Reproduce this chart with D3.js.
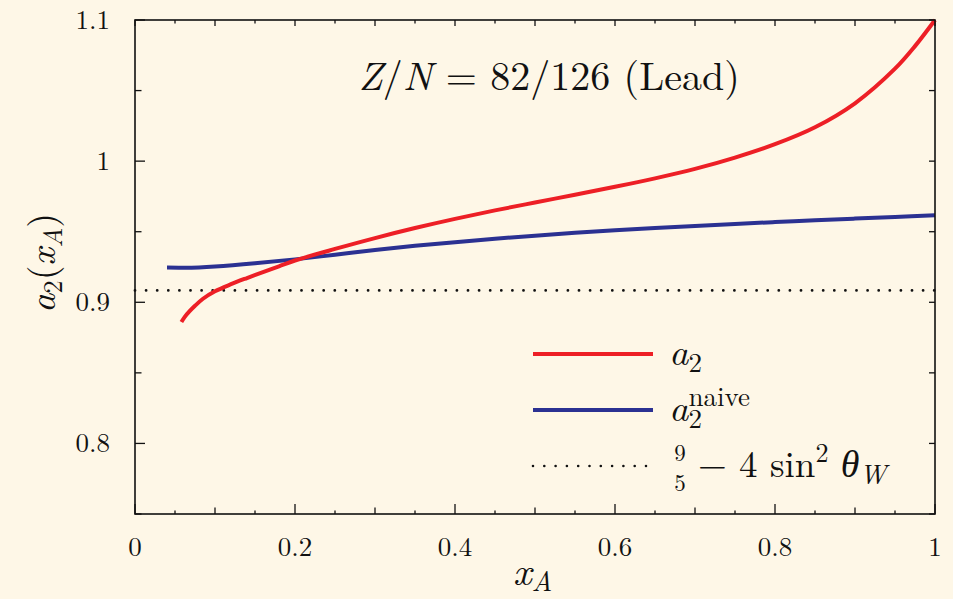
<!DOCTYPE html>
<html>
<head>
<meta charset="utf-8">
<script src="https://cdn.jsdelivr.net/npm/d3@7"></script>
<style>
  body { margin: 0; background: #fef7e7; }
</style>
</head>
<body>
<script>
'use strict';

// a2(xA) for lead
const redX = [0.058, 0.062, 0.068, 0.075, 0.085, 0.10, 0.12, 0.14, 0.16, 0.18, 0.20, 0.25, 0.30,
              0.35, 0.40, 0.45, 0.50, 0.55, 0.60, 0.65, 0.70, 0.75, 0.80, 0.85, 0.90, 0.95, 0.975, 1.00];
const redY = [0.886, 0.8895, 0.8935, 0.8975, 0.9025, 0.9078, 0.9128, 0.9172, 0.9214, 0.9255, 0.9296, 0.9378, 0.9455,
              0.9526, 0.9591, 0.9651, 0.9707, 0.9762, 0.9818, 0.9878, 0.9945, 1.0025, 1.012, 1.024, 1.041, 1.0655, 1.0815, 1.100];

// naive a2
const blueX = [0.04, 0.06, 0.08, 0.10, 0.15, 0.20, 0.25, 0.30, 0.35, 0.40, 0.45, 0.50,
               0.55, 0.60, 0.65, 0.70, 0.75, 0.80, 0.85, 0.90, 0.95, 1.00];
const blueY = [0.9246, 0.9245, 0.9247, 0.9253, 0.9276, 0.9304, 0.9337, 0.937, 0.940, 0.9426, 0.945, 0.9472,
               0.9492, 0.951, 0.9526, 0.9541, 0.9555, 0.9568, 0.9581, 0.9593, 0.9605, 0.9617];

const sin2ThetaW = 0.2229;
const refLevel = 9 / 5 - 4 * sin2ThetaW;

const xTicks = [0, 0.2, 0.4, 0.6, 0.8, 1];
const xTickLabels = ["0", "0.2", "0.4", "0.6", "0.8", "1"];
const yTicks = [0.8, 0.9, 1, 1.1];
const yTickLabels = ["0.8", "0.9", "1", "1.1"];

const width = 953, height = 599;
const margin = {left: 135, right: 18, top: 20, bottom: 85};
const serif = "'Latin Modern Roman', 'Liberation Serif', serif";

let svg = d3.select("body").append("svg")
    .attr("width", width)
    .attr("height", height)
    .style("background", "#fef7e7");

let x = d3.scaleLinear().domain([0, 1]).range([margin.left, width - margin.right]);
let y = d3.scaleLinear().domain([0.75, 1.1]).range([height - margin.bottom, margin.top]);

const x0 = x(0), x1 = x(1), y0 = y(0.75), y1 = y(1.1);

// ticks: three sizes on x, two on y
let ticks = svg.append("g").attr("stroke", "#111").attr("stroke-width", 1.3);
d3.range(0, 21).forEach(function(i) {
    let v = i * 0.05;
    let len = (i % 4 === 0) ? 10 : (i % 2 === 0 ? 6.5 : 3.5);
    let lenTop = (i % 2 === 0) ? 6 : 3.5;
    ticks.append("line").attr("x1", x(v)).attr("x2", x(v)).attr("y1", y0).attr("y2", y0 - len);
    ticks.append("line").attr("x1", x(v)).attr("x2", x(v)).attr("y1", y1).attr("y2", y1 + lenTop);
});
d3.range(0, 8).forEach(function(i) {
    let v = 0.75 + i * 0.05;
    let len = (i % 2 === 1) ? 10 : 6.5;
    ticks.append("line").attr("x1", x0).attr("x2", x0 + len).attr("y1", y(v)).attr("y2", y(v));
    ticks.append("line").attr("x1", x1).attr("x2", x1 - 6).attr("y1", y(v)).attr("y2", y(v));
});

// tick labels
svg.append("g").selectAll("text")
    .data(xTicks)
    .enter().append("text")
      .attr("x", d => x(d))
      .attr("y", y0 + 42)
      .attr("text-anchor", "middle")
      .style("font-size", "27px")
      .text((d, i) => xTickLabels[i]);

svg.append("g").selectAll("text")
    .data(yTicks)
    .enter().append("text")
      .attr("x", x0 - 25)
      .attr("y", d => y(d) + 9)
      .attr("text-anchor", "end")
      .style("font-size", "27px")
      .text((d, i) => yTickLabels[i]);

// reference line 9/5 - 4 sin^2 thetaW
svg.append("line")
    .attr("x1", x0).attr("x2", x1)
    .attr("y1", y(refLevel)).attr("y2", y(refLevel))
    .attr("stroke", "#111")
    .attr("stroke-width", 2.8)
    .attr("stroke-linecap", "round")
    .attr("stroke-dasharray", "0,11.1");

let line = d3.line()
    .x(d => x(d[0]))
    .y(d => y(d[1]))
    .curve(d3.curveCatmullRom.alpha(0.5));

svg.append("path")
    .datum(blueX.map((v, i) => [v, blueY[i]]))
    .attr("fill", "none")
    .attr("stroke", "#2b3192")
    .attr("stroke-width", 4)
    .attr("d", line);

svg.append("path")
    .datum(redX.map((v, i) => [v, redY[i]]))
    .attr("fill", "none")
    .attr("stroke", "#ed1f26")
    .attr("stroke-width", 4)
    .attr("d", line);

// frame
svg.append("rect")
    .attr("x", x0).attr("y", y1)
    .attr("width", x1 - x0).attr("height", y0 - y1)
    .attr("fill", "none")
    .attr("stroke", "#111")
    .attr("stroke-width", 1.6);

// title
let title = svg.append("text")
    .attr("x", 549).attr("y", 90)
    .attr("text-anchor", "middle")
    .style("font-size", "40px");
title.append("tspan").style("font-style", "italic").text("Z");
title.append("tspan").text("/");
title.append("tspan").style("font-style", "italic").text("N");
title.append("tspan").text(" = 82/126 (Lead)");

// axis labels
let xl = svg.append("text")
    .attr("x", 513).attr("y", 585)
    .style("font-size", "40px");
xl.append("tspan").style("font-style", "italic").text("x");
xl.append("tspan").style("font-style", "italic").style("font-size", "28px").attr("dy", 6).text("A");

let yl = svg.append("text")
    .attr("transform", "translate(55,263) rotate(-90)")
    .attr("text-anchor", "middle")
    .style("font-size", "38px");
yl.append("tspan").style("font-style", "italic").text("a");
yl.append("tspan").style("font-size", "27px").attr("dy", 7).text("2");
yl.append("tspan").attr("dy", -7).text("(");
yl.append("tspan").style("font-style", "italic").text("x");
yl.append("tspan").style("font-style", "italic").style("font-size", "27px").attr("dy", 7).text("A");
yl.append("tspan").attr("dy", -7).text(")");

// legend
const legendRows = [354, 410, 466];
let leg = svg.append("g");
leg.append("line").attr("x1", 533).attr("x2", 653).attr("y1", legendRows[0]).attr("y2", legendRows[0])
    .attr("stroke", "#ed1f26").attr("stroke-width", 4);
leg.append("line").attr("x1", 533).attr("x2", 653).attr("y1", legendRows[1]).attr("y2", legendRows[1])
    .attr("stroke", "#2b3192").attr("stroke-width", 4);
leg.append("line").attr("x1", 533).attr("x2", 650).attr("y1", legendRows[2]).attr("y2", legendRows[2])
    .attr("stroke", "#111").attr("stroke-width", 2.6).attr("stroke-linecap", "round")
    .attr("stroke-dasharray", "0,11.3");

let t1 = leg.append("text").attr("x", 669).attr("y", legendRows[0] + 11).style("font-size", "38px");
t1.append("tspan").style("font-style", "italic").text("a");
t1.append("tspan").style("font-size", "27px").attr("dy", 7).text("2");

let t2 = leg.append("text").attr("x", 669).attr("y", legendRows[1] + 11).style("font-size", "38px");
t2.append("tspan").style("font-style", "italic").text("a");
t2.append("tspan").style("font-size", "27px").attr("dy", 7).text("2");
t2.append("tspan").style("font-size", "27px").attr("dx", -13.5).attr("dy", -22).text("naive");

// fraction 9/5
leg.append("text").attr("x", 680).attr("y", legendRows[2] - 5).attr("text-anchor", "middle")
    .style("font-size", "23px").text("9");
leg.append("text").attr("x", 680).attr("y", legendRows[2] + 25).attr("text-anchor", "middle")
    .style("font-size", "23px").text("5");
let t3 = leg.append("text").attr("x", 698).attr("y", legendRows[2] + 11).style("font-size", "37px");
t3.append("tspan").text("\u2212 4 sin");
t3.append("tspan").style("font-size", "26px").attr("dy", -15).text("2");
t3.append("tspan").attr("dy", 15).text(" ");
t3.append("tspan").attr("class", "greek").style("font-style", "italic").text("\u03b8");
t3.append("tspan").style("font-style", "italic").style("font-size", "27px").attr("dy", 7).text("W");

// fonts set on every text directly
svg.selectAll("text").style("font-family", serif).style("fill", "#111");
svg.selectAll(".greek").style("font-family", "'Liberation Serif', serif").style("font-size", "38px");
</script>
</body>
</html>
